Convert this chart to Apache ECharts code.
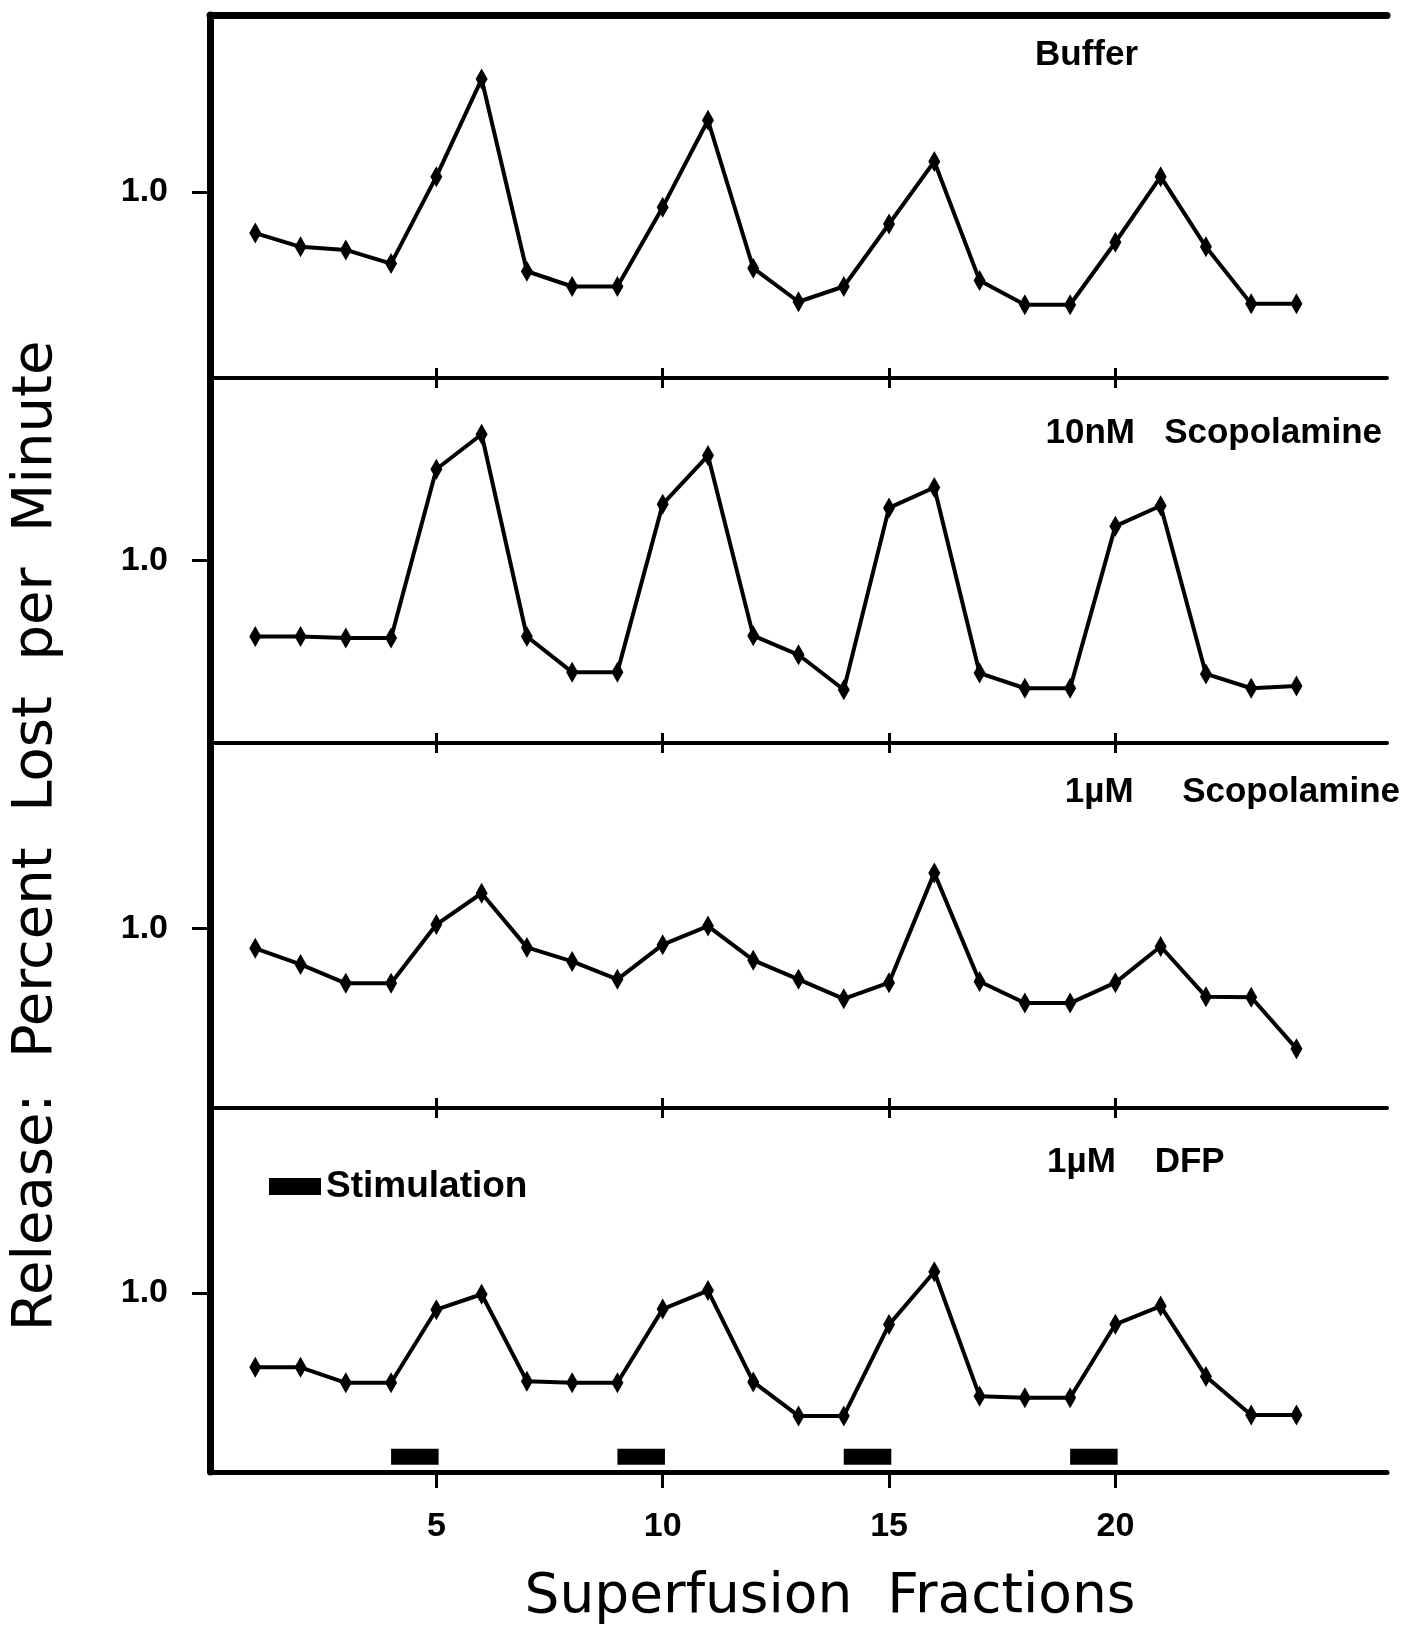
<!DOCTYPE html>
<html>
<head>
<meta charset="utf-8">
<title>Superfusion Fractions</title>
<script src="https://cdn.jsdelivr.net/npm/echarts@6/dist/echarts.min.js"></script>
<style>
html, body { margin: 0; padding: 0; background: #fff; }
#main { width: 1419px; height: 1633px; }
</style>
</head>
<body>
<div id="main"></div>
<script>
// superfusion fractions 1..24
var fractions = [1, 2, 3, 4, 5, 6, 7, 8, 9, 10, 11, 12, 13, 14, 15, 16, 17, 18, 19, 20, 21, 22, 23, 24];

// release, percent lost per minute
var buffer   = [0.865, 0.82, 0.81, 0.765, 1.05, 1.37, 0.74, 0.69, 0.69, 0.95, 1.235, 0.75, 0.64, 0.69, 0.895, 1.10, 0.71, 0.63, 0.63, 0.835, 1.05, 0.82, 0.633, 0.633];
var scop10nM = [0.75, 0.75, 0.745, 0.745, 1.30, 1.415, 0.75, 0.633, 0.633, 1.185, 1.345, 0.753, 0.69, 0.575, 1.173, 1.24, 0.63, 0.58, 0.58, 1.113, 1.18, 0.627, 0.58, 0.587];
var scop1uM  = [0.935, 0.882, 0.82, 0.82, 1.013, 1.116, 0.938, 0.892, 0.833, 0.947, 1.008, 0.896, 0.833, 0.769, 0.822, 1.183, 0.826, 0.755, 0.755, 0.822, 0.941, 0.776, 0.774, 0.605];
var dfp1uM   = [0.755, 0.755, 0.704, 0.704, 0.945, 0.996, 0.709, 0.704, 0.704, 0.947, 1.008, 0.707, 0.595, 0.595, 0.896, 1.07, 0.66, 0.655, 0.655, 0.897, 0.957, 0.725, 0.598, 0.598];

var panelNames = ['Buffer', '10nM   Scopolamine', '1µM     Scopolamine', '1µM    DFP'];

// stimulation periods (fractions)
var stimStart = [4, 9, 14, 19];
var stimEnd = [5.05, 10.05, 15.05, 20.05];
var stimLevel = 0.46;

var xTicks = [5, 10, 15, 20];
var yTicks = [1.0];
var yRanges = [[0.39, 1.58], [0.40, 1.60], [0.41, 1.61], [0.41, 1.61]];

var panels = [buffer, scop10nM, scop1uM, dfp1uM];

var chart = echarts.init(document.getElementById('main'));

var gridTops = [15, 378, 743, 1108];
var gridHeights = [363, 365, 365, 364];
var labelPos = [
	{ x: 1035, y: 55, align: 'left' },
	{ x: 1382, y: 433, align: 'right' },
	{ x: 1400, y: 792, align: 'right' },
	{ x: 1047, y: 1162, align: 'left' }
];

var grids = [], xAxes = [], yAxes = [], series = [], graphics = [];

panels.forEach(function (vals, i) {
	var last = i === panels.length - 1;
	grids.push({ left: 210, right: 32, top: gridTops[i], height: gridHeights[i] });
	// bottom axis of each panel
	xAxes.push({
		type: 'value', gridIndex: i, position: 'bottom', min: 0, max: 26,
		axisLine: { show: true, lineStyle: { color: '#000', width: last ? 5 : 4 } },
		axisTick: { show: true, customValues: xTicks, length: last ? 16 : 10, lineStyle: { color: '#000', width: 3 } },
		axisLabel: {
			show: last, customValues: xTicks, margin: 38, color: '#000',
			fontSize: 34, fontWeight: 'bold', fontFamily: 'Liberation Sans'
		},
		splitLine: { show: false }
	});
	yAxes.push({
		type: 'value', gridIndex: i, min: yRanges[i][0], max: yRanges[i][1],
		axisLine: { show: true, lineStyle: { color: '#000', width: 7 } },
		axisTick: { show: true, customValues: yTicks, length: 18, lineStyle: { color: '#000', width: 3 } },
		axisLabel: {
			customValues: yTicks, margin: 42, color: '#000', fontSize: 34, fontWeight: 'bold',
			fontFamily: 'Liberation Sans',
			formatter: function (v) { return v.toFixed(1); }
		},
		splitLine: { show: false }
	});
	series.push({
		type: 'line', name: panelNames[i], xAxisIndex: i, yAxisIndex: i,
		data: fractions.map(function (f, k) { return [f, vals[k]]; }),
		symbol: 'diamond', symbolSize: [12, 21], showSymbol: true,
		itemStyle: { color: '#000' },
		lineStyle: { color: '#000', width: 4 },
		animation: false
	});
	graphics.push({
		type: 'text', x: labelPos[i].x, y: labelPos[i].y,
		style: {
			text: panelNames[i], fill: '#000', fontSize: 35, fontWeight: 'bold',
			fontFamily: 'Liberation Sans', textAlign: labelPos[i].align, textVerticalAlign: 'middle'
		}
	});
});

// top border of the first panel
xAxes.push({
	type: 'value', gridIndex: 0, position: 'top', min: 0, max: 26,
	axisLine: { show: true, lineStyle: { color: '#000', width: 7 } },
	axisTick: { show: false }, axisLabel: { show: false }, splitLine: { show: false }
});
// upward ticks on the dividers
for (var g = 1; g < 4; g++) {
	xAxes.push({
		type: 'value', gridIndex: g, position: 'top', min: 0, max: 26,
		axisLine: { show: false },
		axisTick: { show: true, customValues: xTicks, length: 10, lineStyle: { color: '#000', width: 3 } },
		axisLabel: { show: false }, splitLine: { show: false }
	});
}

// stimulation bars
series.push({
	type: 'custom', name: 'Stimulation', xAxisIndex: 3, yAxisIndex: 3,
	itemStyle: { color: '#000' },
	data: stimStart.map(function (s, k) { return [s, stimEnd[k], stimLevel]; }),
	encode: { x: [0, 1], y: 2 },
	renderItem: function (params, api) {
		var p0 = api.coord([api.value(0), api.value(2)]);
		var p1 = api.coord([api.value(1), api.value(2)]);
		var h = 16;
		return {
			type: 'rect',
			shape: { x: p0[0], y: p0[1] - h / 2, width: p1[0] - p0[0], height: h },
			style: { fill: '#000' }
		};
	},
	animation: false
});

// axis titles
graphics.push({
	type: 'text', x: 36, y: 836, rotation: Math.PI / 2,
	style: {
		text: 'Release:  Percent  Lost  per  Minute', fill: '#000', fontSize: 56,
		fontFamily: 'DejaVu Sans', textAlign: 'center', textVerticalAlign: 'middle'
	}
});
graphics.push({
	type: 'text', x: 830, y: 1598,
	style: {
		text: 'Superfusion  Fractions', fill: '#000', fontSize: 55,
		fontFamily: 'DejaVu Sans', textAlign: 'center', textVerticalAlign: 'middle'
	}
});

chart.setOption({
	backgroundColor: '#fff',
	animation: false,
	legend: {
		data: [{ name: 'Stimulation', icon: 'rect' }],
		left: 269, top: 1168, padding: 0,
		itemWidth: 52, itemHeight: 17, selectedMode: false,
		textStyle: { color: '#000', fontSize: 37, fontWeight: 'bold', fontFamily: 'Liberation Sans', lineHeight: 36 }
	},
	grid: grids,
	xAxis: xAxes,
	yAxis: yAxes,
	series: series,
	graphic: graphics
});
</script>
</body>
</html>
